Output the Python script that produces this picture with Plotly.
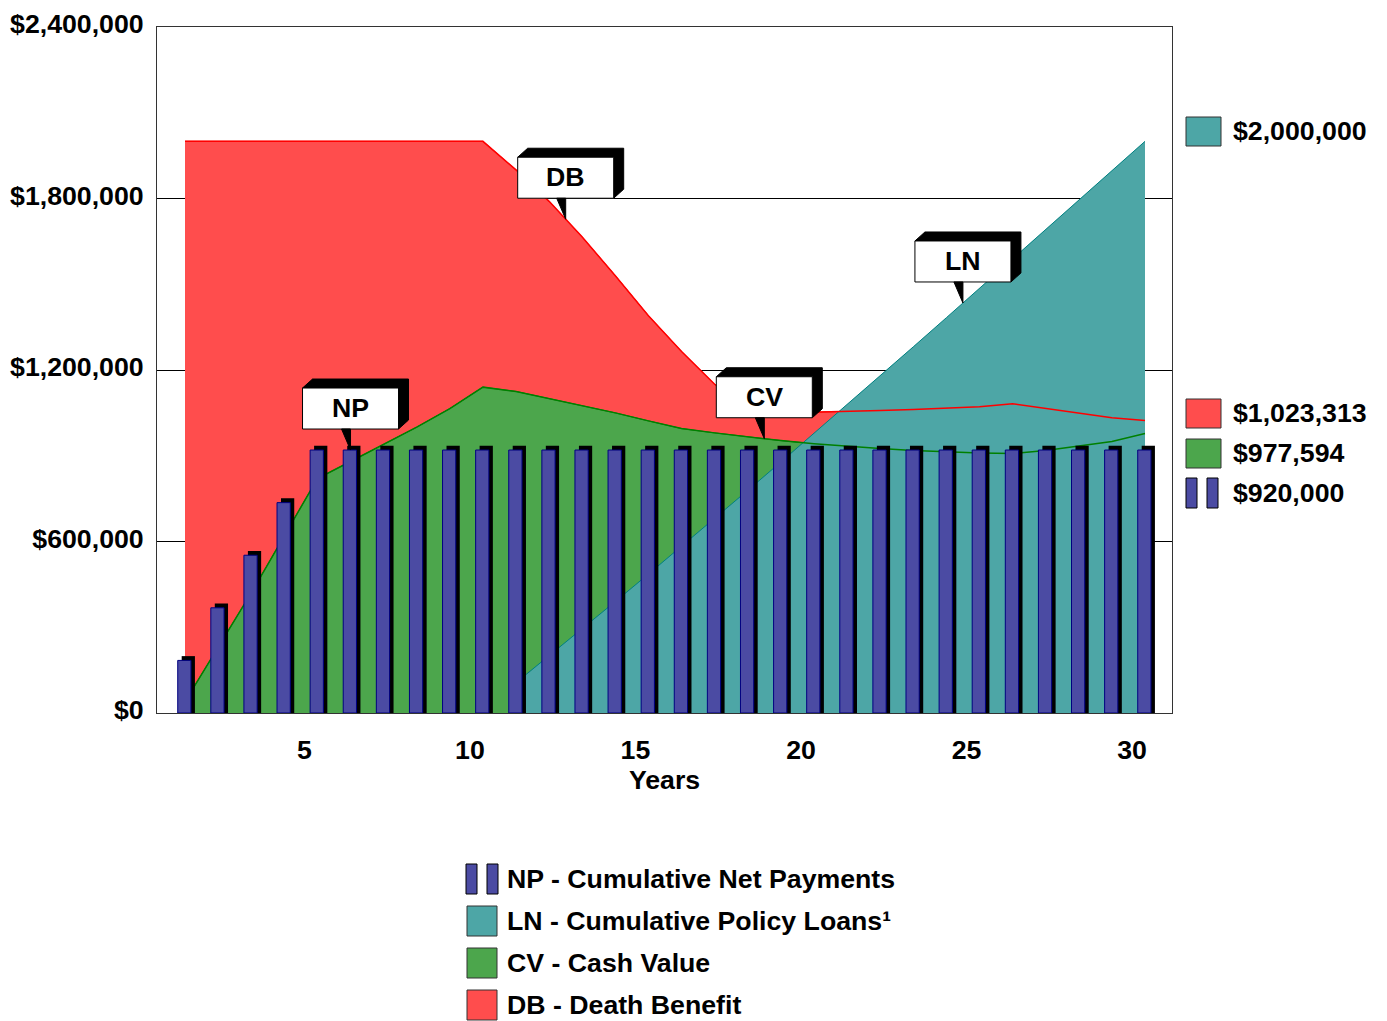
import numpy as np
import plotly.graph_objects as go

# ---------------- data ----------------
years = list(range(1, 31))
np_vals = [184000, 368000, 552000, 736000] + [920000] * 26
db_vals = [2000000] * 10 + [1900000, 1790000, 1665000, 1530000, 1390000, 1265000, 1150000, 1070000,
                            1050000, 1052000, 1055000, 1058000, 1062000, 1066000, 1071000, 1082000,
                            1066000, 1050000, 1033000, 1023313]
cv_vals = [40000, 230000, 420000, 620000, 820000, 880000, 940000, 1000000, 1065000, 1140000,
           1125000, 1100000, 1075000, 1050000, 1022000, 995000, 980000, 966000, 953000, 942000,
           933000, 925000, 918000, 913000, 910000, 908000, 918000, 934000, 950000, 977594]
ln_years = list(range(11, 31))
ln_vals = [106000, 200000, 295000, 390000, 486000, 583000, 681000, 779000, 878000, 978000,
           1078000, 1179000, 1281000, 1383000, 1486000, 1589000, 1690000, 1793000, 1896000, 2000000]
x_ticks = [5, 10, 15, 20, 25, 30]
y_ticks = [0, 600000, 1200000, 1800000, 2400000]
y_tick_text = ["$0", "$600,000", "$1,200,000", "$1,800,000", "$2,400,000"]
legend_labels = ["NP - Cumulative Net Payments", "LN - Cumulative Policy Loans\u00b9",
                 "CV - Cash Value", "DB - Death Benefit"]

# ---------------- style ----------------
W, H = 1387, 1021          # browser window
OFF = 8                    # page body margin
PL, PR, PT, PB = 157, 1172, 27, 713          # plot area in page pixels
X_FIRST_PX, X_LAST_PX = 185, 1145             # pixel of year 1 / year 30
ppy = (X_LAST_PX - X_FIRST_PX) / (years[-1] - years[0])
x_range = [years[0] - (X_FIRST_PX - PL) / ppy, years[-1] + (PR - X_LAST_PX) / ppy]
y_range = [0, 2400000]

RED, GREEN, TEAL, BLUE = "#FF4D4D", "#4CA64C", "#4DA6A6", "#4B4BA3"
RED_L, GREEN_L, TEAL_L = "#FF0000", "#008000", "#008080"
FONT = "Liberation Sans, Arial, sans-serif"
FS = 26.7

def fnt(size=FS, color="black"):
    return dict(family=FONT, size=size, color=color, weight="bold")

def px_x(px):
    return (px - PL) / (PR - PL)

def px_y(py):
    return (PB - py) / (PB - PT)

fig = go.Figure()

# areas (back to front)
fig.add_trace(go.Scatter(x=years, y=db_vals, fill="tozeroy", fillcolor=RED, mode="lines",
                         line=dict(color=RED_L, width=1), showlegend=False, hoverinfo="skip"))
fig.add_trace(go.Scatter(x=years, y=cv_vals, fill="tozeroy", fillcolor=GREEN, mode="lines",
                         line=dict(color=GREEN_L, width=1), showlegend=False, hoverinfo="skip"))
fig.add_trace(go.Scatter(x=ln_years, y=ln_vals, fill="tozeroy", fillcolor=TEAL, mode="lines",
                         line=dict(color=TEAL_L, width=1), showlegend=False, hoverinfo="skip"))
# lines on top of the loan area
fig.add_trace(go.Scatter(x=years, y=db_vals, mode="lines", line=dict(color=RED_L, width=1.5),
                         showlegend=False, hoverinfo="skip"))
fig.add_trace(go.Scatter(x=years, y=cv_vals, mode="lines", line=dict(color=GREEN_L, width=1.5),
                         showlegend=False, hoverinfo="skip"))

# bars on an overlaid subplot so they sit above the areas
SHADOW_DY = 15000
fig.add_trace(go.Bar(x=years, y=[v + SHADOW_DY for v in np_vals], width=0.4, offset=-0.1,
                     marker=dict(color="black", line=dict(width=0)), xaxis="x2", yaxis="y2",
                     showlegend=False, hoverinfo="skip"))
fig.add_trace(go.Bar(x=years, y=np_vals, width=0.4, offset=-0.22,
                     marker=dict(color=BLUE, line=dict(color="#000080", width=1)),
                     xaxis="x2", yaxis="y2", showlegend=False, hoverinfo="skip"))

shapes = []
annotations = []

# ---------------- callouts ----------------
def callout(label, xv, yv):
    common = dict(type="path", xref="x", yref="y", xsizemode="pixel", ysizemode="pixel",
                  xanchor=xv, yanchor=yv, layer="above")
    shapes.append(dict(common, path="M-48,62 L-38,71 L58,71 L58,30 L48,21 L48,62 Z",
                       fillcolor="black", line=dict(color="black", width=1)))
    shapes.append(dict(common, path="M-48,21 L48,21 L48,62 L-48,62 Z",
                       fillcolor="white", line=dict(color="black", width=1)))
    shapes.append(dict(common, path="M-9,21 L0,21 L0,0 Z",
                       fillcolor="black", line=dict(color="black", width=1)))
    annotations.append(dict(x=xv, y=yv, xref="x", yref="y", yshift=42, text=label,
                            showarrow=False, font=fnt(), xanchor="center", yanchor="middle"))

callout("NP", 6, np_vals[5])
callout("DB", 12.5, float(np.interp(12.5, years, db_vals)))
callout("CV", 18.5, float(np.interp(18.5, years, cv_vals)))
callout("LN", 24.5, float(np.interp(24.5, ln_years, ln_vals)))

# ---------------- right-side end values ----------------
def square(x0, y0, x1, y1, color, line="#333333"):
    shapes.append(dict(type="rect", xref="paper", yref="paper", x0=px_x(x0), x1=px_x(x1),
                       y0=px_y(y1), y1=px_y(y0), fillcolor=color, line=dict(color=line, width=1),
                       layer="above"))

def bar_icon(x0, y0, y1):
    square(x0, y0, x0 + 11, y1, BLUE, "black")
    square(x0 + 21, y0, x0 + 32, y1, BLUE, "black")

def label(px, py, text):
    annotations.append(dict(x=px_x(px), y=px_y(py), xref="paper", yref="paper", text=text,
                            showarrow=False, font=fnt(), xanchor="left", yanchor="middle"))

end_items = [(TEAL, ln_vals[-1], 131), (RED, db_vals[-1], 413), (GREEN, cv_vals[-1], 453)]
for color, val, cy in end_items:
    square(1186, cy - 14, 1221, cy + 15, color)
    label(1231, cy, f"${val:,.0f}")
bar_icon(1186, 478, 508)
label(1231, 493, f"${np_vals[-1]:,.0f}")

# ---------------- bottom legend ----------------
leg_rows = [879, 921, 963, 1005]
bar_icon(466, leg_rows[0] - 15, leg_rows[0] + 15)
square(467, leg_rows[1] - 15, 497, leg_rows[1] + 15, TEAL)
square(467, leg_rows[2] - 15, 497, leg_rows[2] + 15, GREEN)
square(467, leg_rows[3] - 15, 497, leg_rows[3] + 15, RED)
for cy, txt in zip(leg_rows, legend_labels):
    label(505, cy, txt)

fig.update_layout(
    width=W - OFF, height=H - OFF,
    margin=dict(l=PL - OFF, r=W - PR, t=PT - OFF, b=H - PB, pad=0, autoexpand=False),
    paper_bgcolor="white", plot_bgcolor="white",
    barmode="overlay", showlegend=False,
    shapes=shapes, annotations=annotations,
    xaxis=dict(range=x_range, tickvals=x_ticks, ticks="", showgrid=False, zeroline=False,
               showline=True, mirror=True, linecolor="#333333", linewidth=1, automargin=False,
               tickfont=fnt(), ticklabelstandoff=13, ticklabelshift=-13,
               title=dict(text="Years", font=fnt(), standoff=4)),
    yaxis=dict(range=y_range, tickvals=y_ticks, ticktext=y_tick_text, ticks="",
               showgrid=True, gridcolor="black", gridwidth=1, zeroline=False,
               showline=True, mirror=True, linecolor="#333333", linewidth=1, automargin=False,
               tickfont=fnt(), ticklabelstandoff=7, ticklabelshift=-3),
    xaxis2=dict(range=x_range, overlaying="x", visible=False),
    yaxis2=dict(range=y_range, overlaying="y", visible=False),
)

fig.write_html("out.html")
